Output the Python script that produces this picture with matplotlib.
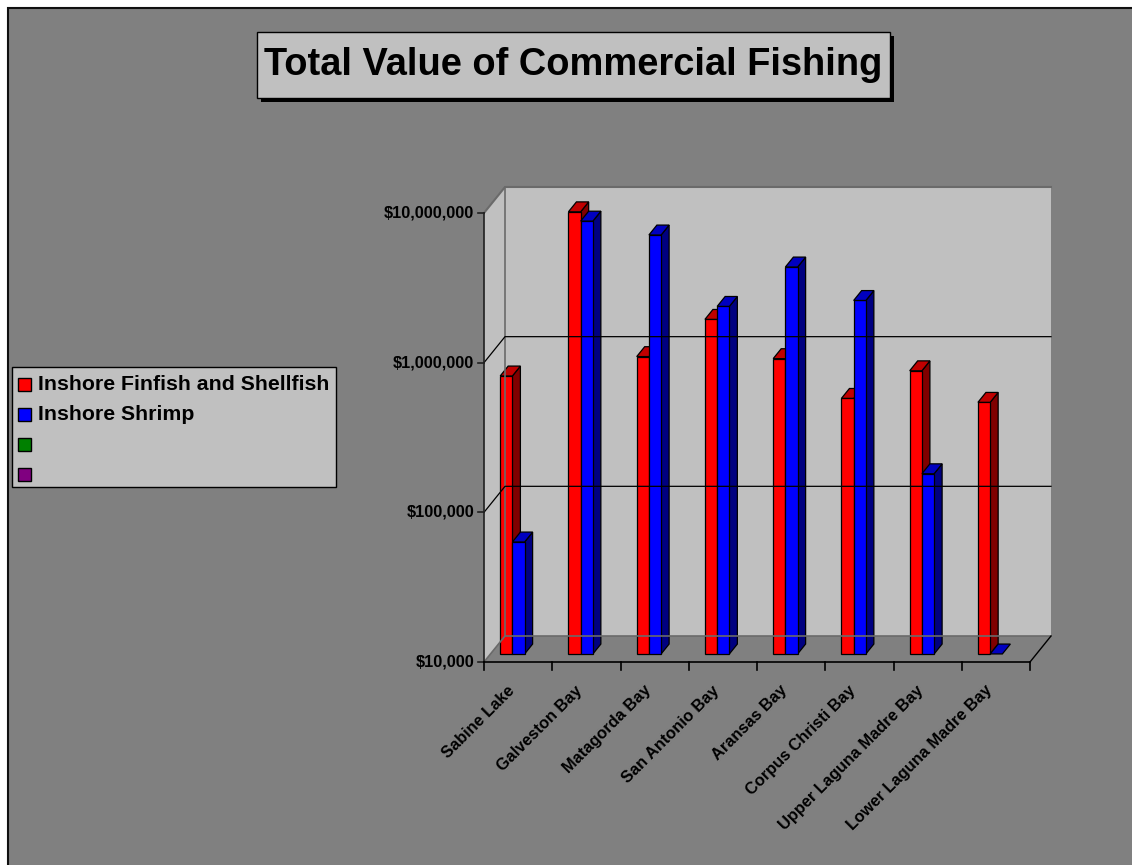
import numpy as np
import matplotlib.pyplot as plt
from matplotlib.patches import Polygon, Rectangle

plt.rcParams['font.family'] = ['Liberation Sans', 'DejaVu Sans']

# values per bay (dollars)
bays = ['Sabine Lake', 'Galveston Bay', 'Matagorda Bay', 'San Antonio Bay',
        'Aransas Bay', 'Corpus Christi Bay', 'Upper Laguna Madre Bay',
        'Lower Laguna Madre Bay']
finfish = [720000, 9000000, 970000, 1720000, 940000, 510000, 780000, 480000]
shrimp = [56000, 7800000, 6300000, 2100000, 3850000, 2300000, 160000, 0]

series_names = ['Inshore Finfish and Shellfish', 'Inshore Shrimp', '', '']
series_colors = ['#ff0000', '#0000ff', '#008000', '#800080']
top_colors = ['#c00000', '#0000c0']
side_colors = ['#800000', '#000080']

y_ticks = [1e4, 1e5, 1e6, 1e7]
y_ticklabels = ['$10,000', '$100,000', '$1,000,000', '$10,000,000']

W, H = 1132, 865
fig = plt.figure(figsize=(W / 100, H / 100), dpi=100)
fig.patch.set_facecolor('white')

# page layer, pixel units with origin at top-left
page = fig.add_axes([0, 0, 1, 1])
page.set_xlim(0, W)
page.set_ylim(H, 0)
page.axis('off')
page.add_patch(Rectangle((8, 8), W, H, facecolor='#808080', edgecolor='#101010', lw=1.5))

# title box with drop shadow
page.add_patch(Rectangle((261, 36), 633, 66, facecolor='black', edgecolor='none'))
page.add_patch(Rectangle((257, 32), 633, 66, facecolor='#c0c0c0', edgecolor='black', lw=1))
title = page.text(573.5, 65, 'Total Value of Commercial Fishing', ha='center', va='center',
                  fontsize=32, fontweight='bold',
                  family=['Liberation Sans Narrow', 'Liberation Sans'])
# fit the title to the width of its box
fig.canvas.draw()
tw = title.get_window_extent().width
title.set_fontsize(32 * 620 / tw)

# legend
page.add_patch(Rectangle((12, 367), 324, 120, facecolor='#c0c0c0', edgecolor='black', lw=1))
for k, (name, col) in enumerate(zip(series_names, series_colors)):
    yc = 384 + 30 * k
    page.add_patch(Rectangle((18, yc - 6.5), 13, 13, facecolor=col, edgecolor='black', lw=1))
    page.text(38, yc, name, ha='left', va='center', fontsize=15.3, fontweight='bold')

# chart layer: x in category units, y on a log scale
ax = fig.add_axes([0, 0, 1, 1], facecolor='none')
ax.axis('off')
ax.set_yscale('log')
px_cat = 68.25     # pixels per category
px_dec = 149.67    # pixels per decade
x0_px, y0_px = 484, 662
ax.set_xlim(-x0_px / px_cat, (W - x0_px) / px_cat)
ax.set_ylim(10 ** (4 - (H - y0_px) / px_dec), 10 ** (4 + y0_px / px_dec))

DX = 21 / px_cat            # depth shift to the right
DYF = 10 ** (26 / px_dec)   # depth shift upward (multiplicative on log axis)
nx = len(bays)
ymin, ymax = y_ticks[0], y_ticks[-1]


def pt(x, y, d=0.0):
    return (x + d * DX, y * DYF ** d)


# walls and floor
ax.add_patch(Polygon([pt(0, ymin), pt(0, ymin, 1), pt(0, ymax, 1), pt(0, ymax)],
                     facecolor='#c0c0c0', edgecolor='none'))
ax.add_patch(Polygon([pt(0, ymin, 1), pt(nx, ymin, 1), pt(nx, ymax, 1), pt(0, ymax, 1)],
                     facecolor='#c0c0c0', edgecolor='none'))
ax.add_patch(Polygon([pt(0, ymin), pt(nx, ymin), pt(nx, ymin, 1), pt(0, ymin, 1)],
                     facecolor='#808080', edgecolor='none'))

# wall edges
edge = '#6a6a6a'
ax.plot(*zip(pt(0, ymax), pt(0, ymax, 1), pt(nx, ymax, 1)), color=edge, lw=1.5)
ax.plot(*zip(pt(0, ymin, 1), pt(0, ymax, 1)), color=edge, lw=1.2)
ax.plot(*zip(pt(0, ymin), pt(0, ymin, 1), pt(nx, ymin, 1)), color=edge, lw=1.2)
ax.plot(*zip(pt(nx, ymin), pt(nx, ymin, 1)), color='black', lw=1)

# gridlines on side and back wall
for t in y_ticks[1:-1]:
    ax.plot(*zip(pt(0, t), pt(0, t, 1), pt(nx, t, 1)), color='black', lw=0.9)

# value axis
ax.plot([0, 0], [ymin, ymax], color='#202020', lw=1.2)
for t, lab in zip(y_ticks, y_ticklabels):
    ax.plot([-6 / px_cat, 0], [t, t], color='#202020', lw=1.2)
    ax.text(-10 / px_cat, t, lab, ha='right', va='center', fontsize=11.7, fontweight='bold')

# category axis
ax.plot([0, nx], [ymin, ymin], color='black', lw=1.2)
tick_low = ymin * 10 ** (-8 / px_dec)
for i in range(nx + 1):
    ax.plot([i, i], [ymin, tick_low], color='black', lw=1.2)
for i, name in enumerate(bays):
    ax.text(i + 0.5 - 6 / px_cat, ymin * 10 ** (-26 / px_dec), name, rotation=45,
            rotation_mode='anchor', ha='right', va='center', fontsize=11.8,
            fontweight='bold')

# 3-D bars: four series slots, only the first two carry data
bar_w = 0.179
group_start = (1 - len(series_names) * bar_w) / 2
d0, d1 = 0.31, 0.69
for i in range(nx):
    for s, vals in enumerate([finfish, shrimp]):
        v = max(vals[i], ymin)
        xl = i + group_start + s * bar_w
        xr = xl + bar_w
        side = [pt(xr, ymin, d0), pt(xr, ymin, d1), pt(xr, v, d1), pt(xr, v, d0)]
        front = [pt(xl, ymin, d0), pt(xr, ymin, d0), pt(xr, v, d0), pt(xl, v, d0)]
        top = [pt(xl, v, d0), pt(xr, v, d0), pt(xr, v, d1), pt(xl, v, d1)]
        if vals[i] > ymin:
            ax.add_patch(Polygon(side, facecolor=side_colors[s], edgecolor='black', lw=0.9))
            ax.add_patch(Polygon(front, facecolor=series_colors[s], edgecolor='black', lw=0.9))
        ax.add_patch(Polygon(top, facecolor=top_colors[s], edgecolor='black', lw=0.9))

fig.savefig('out.png', dpi=100, facecolor=fig.get_facecolor())
